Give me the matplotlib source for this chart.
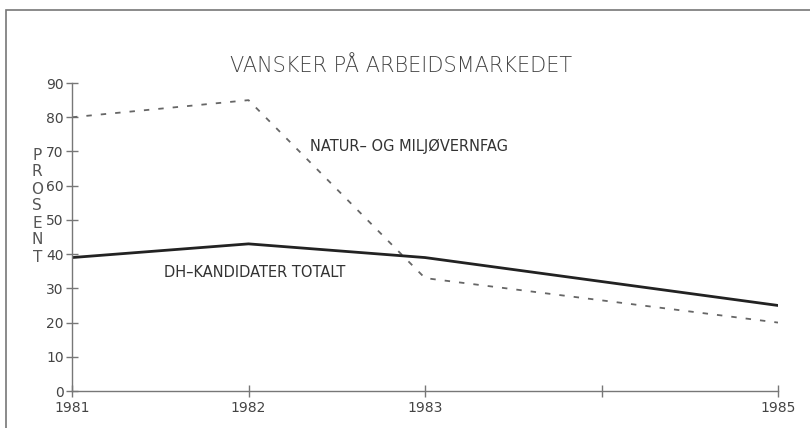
import matplotlib.pyplot as plt
from matplotlib.patches import Rectangle

# Andel med vansker på arbeidsmarkedet (prosent)
aar = [1981, 1982, 1983, 1985]
natur_miljo = [80, 85, 33, 20]
dh_totalt = [39, 43, 39, 25]

x_ticks = [1981, 1982, 1983, 1984, 1985]
x_labels = ["1981", "1982", "1983", "", "1985"]
y_ticks = list(range(0, 91, 10))

plt.rcParams['font.family'] = ['DejaVu Sans']

fig = plt.figure(figsize=(8.1, 4.28), dpi=100)
ax = fig.add_axes([0.0889, 0.0864, 0.8716, 0.7196])

# Ramme rundt hele figuren
fig.patches.append(Rectangle((0.007, -0.01), 1.0, 0.987, transform=fig.transFigure,
                             fill=False, edgecolor='#777777', linewidth=1.2))

ax.plot(aar, natur_miljo, color='#666666', linewidth=1.3, dashes=(3, 5))
ax.plot(aar, dh_totalt, color='#222222', linewidth=2.0)

ax.set_xlim(1981, 1985)
ax.set_ylim(0, 90)
ax.set_xticks(x_ticks)
ax.set_xticklabels(x_labels)
ax.set_yticks(y_ticks)

for side in ['top', 'right']:
    ax.spines[side].set_visible(False)
for side in ['left', 'bottom']:
    ax.spines[side].set_color('#777777')
    ax.spines[side].set_linewidth(1.0)

ax.tick_params(axis='both', direction='inout', length=8, width=1, color='#777777',
               labelsize=10, labelcolor='#444444')
ax.tick_params(axis='y', pad=2)
ax.tick_params(axis='x', pad=3)

# Tittel og etiketter
fig.text(0.495, 0.832, "VANSKER PÅ ARBEIDSMARKEDET", ha='center', va='baseline',
         fontsize=15, color='#444444', fontweight='light')

ax.text(1982.35, 71.5, "NATUR– OG MILJØVERNFAG", fontsize=10.5, color='#333333',
        va='center', ha='left')
ax.text(1981.52, 34.5, "DH–KANDIDATER TOTALT", fontsize=10.5, color='#333333',
        va='center', ha='left')

for i, bokstav in enumerate("PROSENT"):
    fig.text(0.046, 1 - (155 + i * 17) / 428, bokstav, ha='center', va='center',
             fontsize=11, color='#555555')

fig.savefig("out.png", dpi=100, facecolor='white')
